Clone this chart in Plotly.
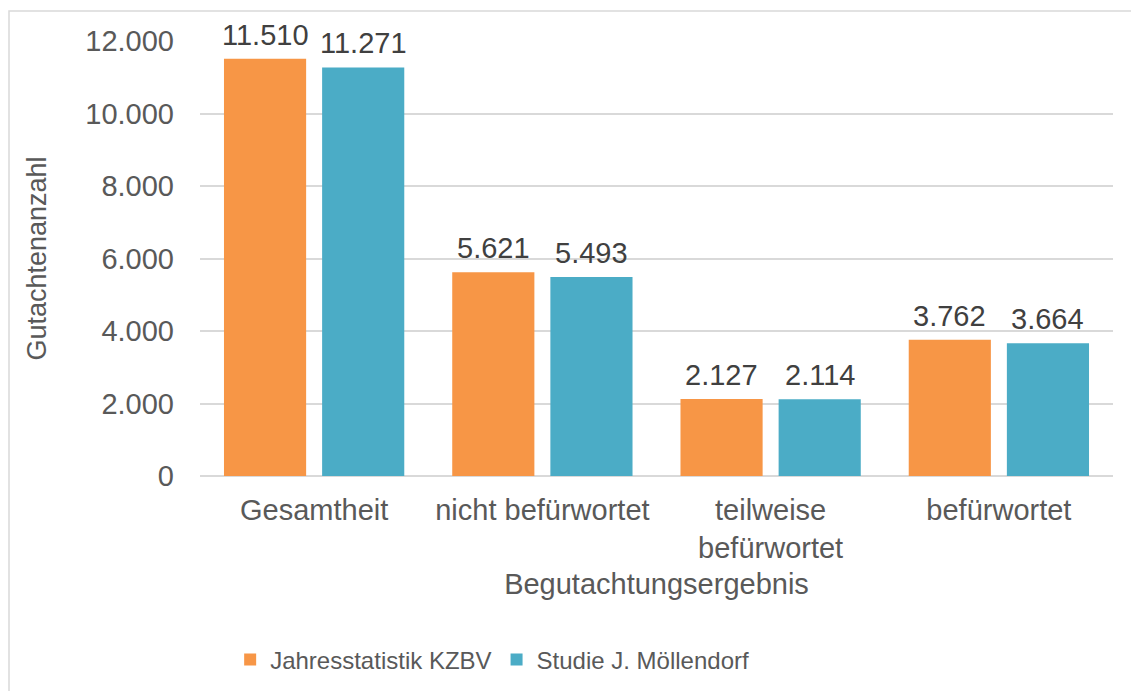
import plotly.graph_objects as go

categories = ["Gesamtheit", "nicht befürwortet", "teilweise<br>befürwortet", "befürwortet"]
series_names = ["Jahresstatistik KZBV", "Studie J. Möllendorf"]
kzbv = [11510, 5621, 2127, 3762]
moellendorf = [11271, 5493, 2114, 3664]
y_ticks = [0, 2000, 4000, 6000, 8000, 10000, 12000]

colors = ["#F79646", "#4BACC6"]
FONT = "Liberation Sans, Arial, sans-serif"
TXT = "#595959"
FS = 29

fig = go.Figure()
for name, vals, col in zip(series_names, [kzbv, moellendorf], colors):
    fig.add_trace(go.Bar(
        x=categories, y=vals, name=name,
        marker=dict(color=col, line=dict(width=0)),
    ))

# value labels above the bars
for vals, shift in zip([kzbv, moellendorf], [-49, 49]):
    for c, v in zip(categories, vals):
        fig.add_annotation(x=c, y=v, xref="x", yref="y", text=f"{v:,}".replace(",", "."),
                           showarrow=False, xshift=shift, yanchor="bottom", yshift=6,
                           font=dict(family=FONT, size=FS, color="#404040"))

PL, PR_, PT, PB = 192, 1139 - 1105, 33, 691 - 468

fig.update_layout(
    width=1139, height=691,
    margin=dict(l=PL, r=PR_, t=PT, b=PB, autoexpand=False),
    paper_bgcolor="white", plot_bgcolor="white",
    separators=",.",
    barmode="group", bargap=0.14, bargroupgap=0.163,
    font=dict(family=FONT, size=FS, color=TXT),
    showlegend=True,
    legend=dict(orientation="h", x=0.32, xanchor="center", y=-0.423, yanchor="middle",
                font=dict(family=FONT, size=24, color=TXT), traceorder="normal"),
    xaxis=dict(
        showgrid=False, showline=False, zeroline=False, automargin=False,
        ticks="", ticklabelstandoff=14, tickfont=dict(family=FONT, size=FS, color=TXT),
        title=dict(text="Begutachtungsergebnis", font=dict(family=FONT, size=FS, color=TXT), standoff=10),
    ),
    yaxis=dict(
        range=[0, 12000], tickvals=y_ticks, tickformat=",", showgrid=True,
        gridcolor="#D9D9D9", gridwidth=1.5, zeroline=True, zerolinecolor="#D9D9D9", zerolinewidth=1.5,
        showline=False, ticks="", ticklabelstandoff=25, automargin=False,
        tickfont=dict(family=FONT, size=FS, color=TXT),
        title=dict(text="Gutachtenanzahl", font=dict(family=FONT, size=27, color=TXT), standoff=30),
    ),
    shapes=[dict(type="rect", xref="paper", yref="paper",
                 x0=(1 - PL) / 913, x1=1.1, y0=-0.7, y1=(468 - 3) / 435,
                 line=dict(color="#D9D9D9", width=1.5), fillcolor="rgba(0,0,0,0)", layer="below")],
)

fig.write_html("out.html")
